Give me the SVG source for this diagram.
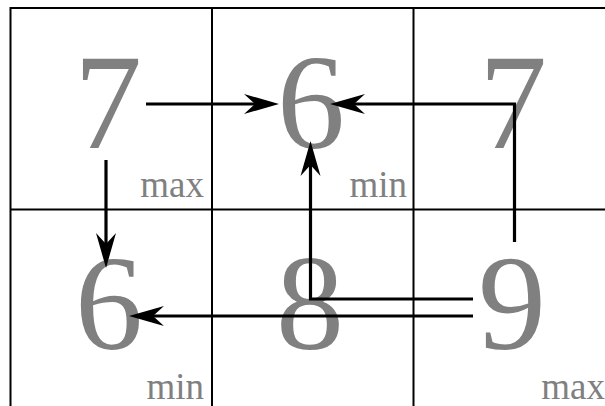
<svg xmlns="http://www.w3.org/2000/svg" width="605" height="406" viewBox="0 0 605 406">
<style>
.grid{stroke:#000;stroke-width:2;fill:none}
.num{font-family:"Liberation Serif",serif;font-size:136px;fill:#808080;text-anchor:middle}
.lab{font-family:"Liberation Serif",serif;font-size:37px;fill:#808080;text-anchor:end}
.arr{stroke:#000;stroke-width:3.2;fill:none;stroke-linejoin:miter;marker-end:url(#ah)}
</style>
<defs>
<marker id="ah" markerUnits="userSpaceOnUse" markerWidth="35" markerHeight="20" viewBox="0 0 35 20" refX="11" refY="10" orient="auto" overflow="visible">
<path d="M35,10 L0,0 L11,10 L0,20 Z" fill="#000"/>
</marker>
</defs>
<g id="grid" class="grid">
<path d="M9.5,8 H605 M9.5,209.5 H605 M10.5,7 V406 M212,7 V406 M413.5,7 V406"/>
</g>
<g id="n1"><text class="num" x="108" y="148">7</text><text class="lab" x="204" y="197">max</text></g>
<g id="n2"><text class="num" x="311" y="148">6</text><text class="lab" x="407" y="197">min</text></g>
<g id="n3"><text class="num" x="513" y="148">7</text></g>
<g id="n4"><text class="num" x="109" y="349">6</text><text class="lab" x="204" y="399">min</text></g>
<g id="n5"><text class="num" x="310" y="349">8</text></g>
<g id="n6"><text class="num" x="512" y="349">9</text><text class="lab" x="605" y="399">max</text></g>
<g id="connectors">
<path class="arr" d="M146,104 H255"/>
<path class="arr" d="M514.5,242 V104 H354"/>
<path class="arr" d="M106,160 V244"/>
<path class="arr" d="M473,299 H310.5 V165"/>
<path class="arr" d="M473,316 H153"/>
</g>
</svg>
